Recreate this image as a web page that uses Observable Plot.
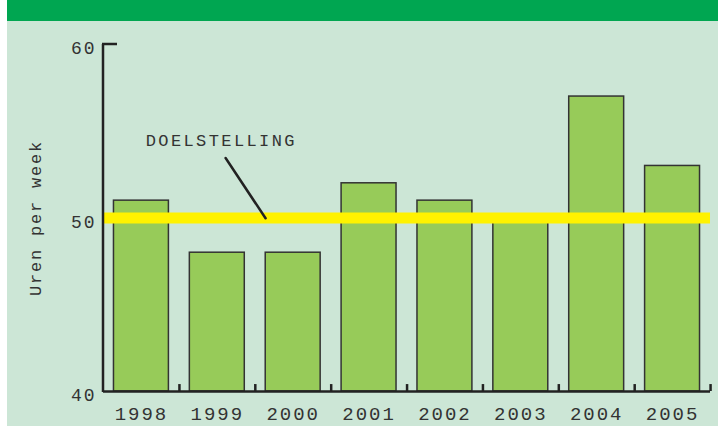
<!DOCTYPE html>
<html>
<head>
<meta charset="utf-8">
<script src="https://cdn.jsdelivr.net/npm/d3@7"></script>
<script src="https://cdn.jsdelivr.net/npm/@observablehq/plot@0.6"></script>
<style>
  html, body { margin: 0; padding: 0; background: #ffffff; }
  #wrap { margin-left: 7px; width: 711px; }
  #header { height: 21px; background: #00A651; }
  #chart svg { display: block; }
  #chart g[aria-label="x-axis tick label"] text { letter-spacing: 2px; }
  #chart g[aria-label="y-axis tick label"] text { letter-spacing: 2px; }
  #chart g[aria-label="y-axis label"] text { letter-spacing: 1.8px; font-size: 17px; }
  #chart g[aria-label="text"] text { letter-spacing: 2.4px; }
</style>
</head>
<body>
<div id="wrap">
  <div id="header"></div>
  <div id="chart"></div>
</div>
<script>
// Data
const years = ["1998", "1999", "2000", "2001", "2002", "2003", "2004", "2005"];
const hours = [51, 48, 48, 52, 51, 50, 57, 53];
const targetValue = [50];
const yTicks = [40, 50, 60];
const yLabel = "Uren per week";
const annotationText = ["DOELSTELLING"];
const annotationYear = ["1999"];
const annotationY = [54.47];
// leader line from label towards target line (data coordinates)
const leaderFromYear = ["1999"];
const leaderFromY = [54.18];
const leaderToYear = ["2000"];
const leaderToY = [47.58];

const rows = years.map((year, i) => ({year, value: hours[i]}));
const fontStack = "'Courier New', 'Liberation Mono', 'DejaVu Sans Mono', monospace";

const leftAxisLine = (index, scales, values, dims) => {
  const g = d3.create("svg:g");
  const x0 = dims.marginLeft;
  const yTop = scales.y(yTicks[yTicks.length - 1]);
  const yBottom = scales.y(yTicks[0]);
  g.append("line").attr("x1", x0).attr("x2", x0).attr("y1", yTop).attr("y2", yBottom + 1)
    .attr("stroke", "#222").attr("stroke-width", 2.5);
  g.append("line").attr("x1", x0 - 1).attr("x2", x0 + 14).attr("y1", yTop).attr("y2", yTop)
    .attr("stroke", "#222").attr("stroke-width", 2.5);
  return g.node();
};

const chart = Plot.plot({
  width: 711,
  height: 405,
  marginLeft: 96,
  marginRight: 8,
  marginTop: 23,
  marginBottom: 35,
  style: {background: "#CCE6D6", fontFamily: fontStack, color: "#333"},
  x: {domain: years, paddingInner: 0.276, paddingOuter: 0.138, round: false, label: null},
  y: {domain: [40, 60], label: yLabel},
  marks: [
    Plot.barY(rows, {x: "year", y1: 40, y2: "value", fill: "#97CB59", stroke: "#333", strokeWidth: 1.5}),
    Plot.ruleY(targetValue, {stroke: "#FFF200", strokeWidth: 11}),
    Plot.ruleY([yTicks[0]], {stroke: "#222", strokeWidth: 2.5}),
    Plot.ruleX(years, {x: d => d, dx: 38, y1: 40, y2: 40.4, stroke: "#222", strokeWidth: 2.5}),
    leftAxisLine,
    Plot.axisX({tickSize: 0, tickPadding: 15, fontSize: 19, fill: "#333"}),
    Plot.axisY({ticks: yTicks, tickSize: 0, tickPadding: 7, dy: 4, fontSize: 18, fill: "#333",
      label: yLabel, labelAnchor: "center", labelOffset: 75, labelArrow: false}),
    Plot.text(annotationText, {x: (d, i) => annotationYear[i], y: (d, i) => annotationY[i], text: d => d,
      dx: 4, fontSize: 17, fill: "#333"}),
    Plot.arrow(annotationText, {
      x1: (d, i) => leaderFromYear[i], y1: (d, i) => leaderFromY[i],
      x2: (d, i) => leaderToYear[i], y2: (d, i) => leaderToY[i],
      insetStart: 15, insetEnd: 50, headLength: 0, stroke: "#222", strokeWidth: 2.5, bend: 0
    })
  ]
});
document.getElementById("chart").appendChild(chart);
</script>
</body>
</html>
